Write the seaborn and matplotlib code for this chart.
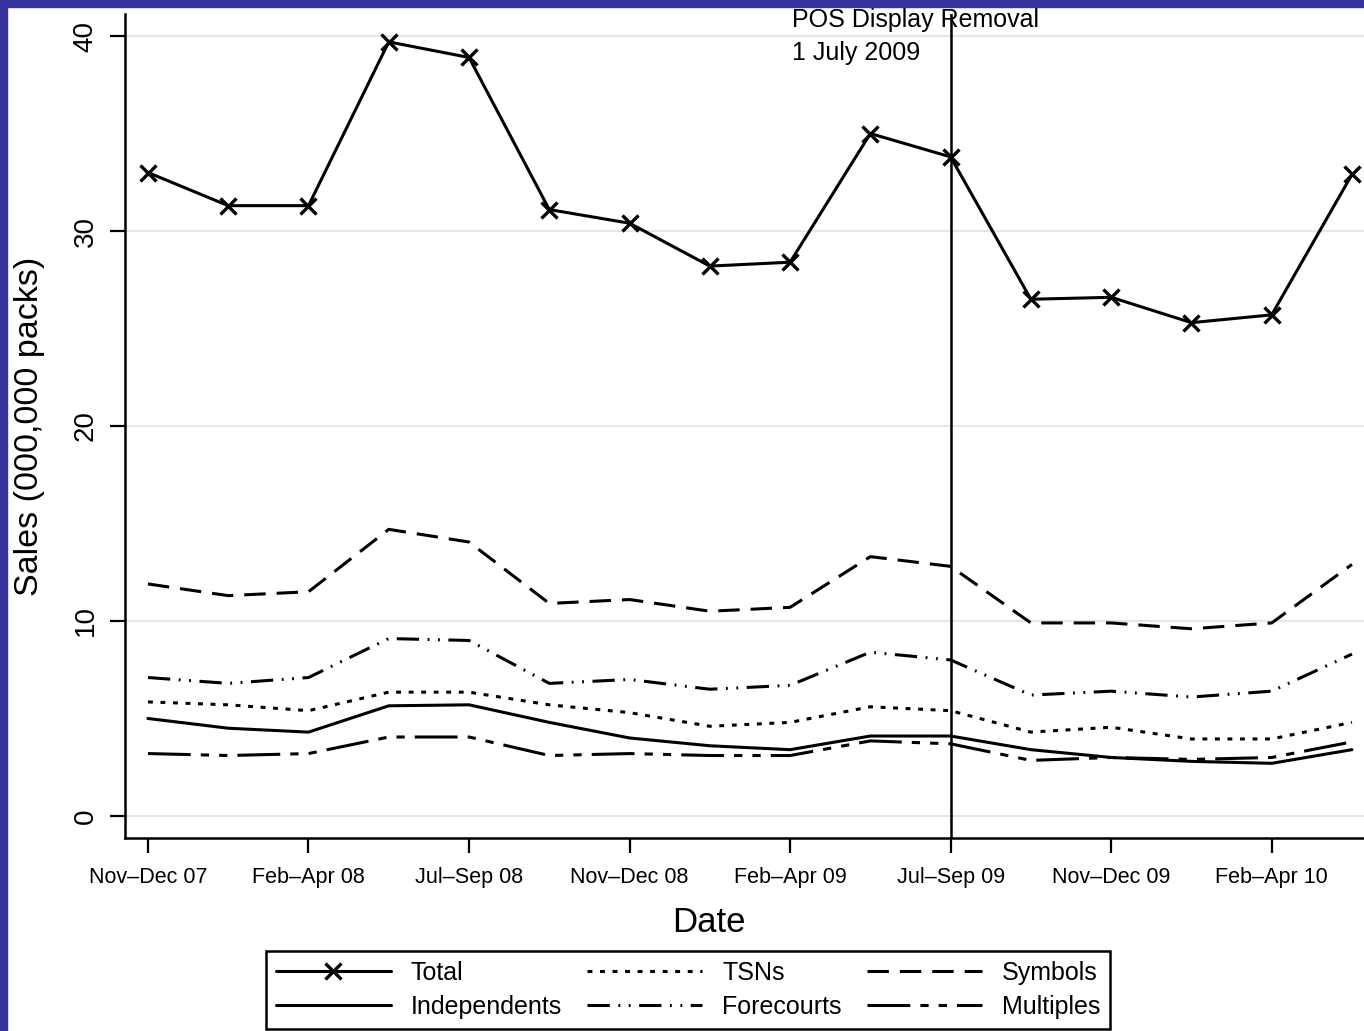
import numpy as np
import pandas as pd
import seaborn as sns
import matplotlib.pyplot as plt
from matplotlib.patches import Rectangle

# quarters (3-month rolling periods), Nov-Dec 07 .. Apr-Jun 10
periods = list(range(16))
tick_pos = [0, 2, 4, 6, 8, 10, 12, 14]
tick_labels = ['Nov\u2013Dec 07', 'Feb\u2013Apr 08', 'Jul\u2013Sep 08', 'Nov\u2013Dec 08',
               'Feb\u2013Apr 09', 'Jul\u2013Sep 09', 'Nov\u2013Dec 09', 'Feb\u2013Apr 10']

total = [33.0, 31.3, 31.3, 39.7, 38.9, 31.1, 30.4, 28.2, 28.4, 35.0, 33.8, 26.5, 26.6, 25.3, 25.7, 32.9]
symbols = [11.9, 11.3, 11.5, 14.7, 14.05, 10.9, 11.1, 10.5, 10.7, 13.3, 12.8, 9.9, 9.9, 9.6, 9.9, 12.9]
forecourts = [7.1, 6.8, 7.1, 9.1, 9.0, 6.8, 7.0, 6.5, 6.7, 8.4, 8.0, 6.2, 6.4, 6.1, 6.4, 8.3]
tsns = [5.85, 5.7, 5.4, 6.35, 6.35, 5.7, 5.3, 4.6, 4.8, 5.6, 5.4, 4.3, 4.55, 3.95, 3.95, 4.8]
independents = [5.0, 4.5, 4.3, 5.65, 5.7, 4.8, 4.0, 3.6, 3.4, 4.1, 4.1, 3.4, 3.0, 2.8, 2.7, 3.4]
multiples = [3.2, 3.1, 3.2, 4.05, 4.05, 3.1, 3.2, 3.1, 3.1, 3.85, 3.7, 2.85, 3.0, 2.9, 3.0, 3.8]

removal_idx = 10

sns.set_theme(style='white')
plt.rcParams['font.family'] = ['Liberation Sans', 'DejaVu Sans']
for k in ['text.color', 'axes.labelcolor', 'xtick.color', 'ytick.color']:
    plt.rcParams[k] = 'black'

fig = plt.figure(figsize=(13.64, 10.31), dpi=100, facecolor='white')
ax = fig.add_axes([125 / 1364, 1 - 838 / 1031, 1 - 125 / 1364, (838 - 14) / 1031])

lw = 2.2
series = [
    ('Total', total, dict(linestyle='-', marker='x', markersize=11, markeredgewidth=2.4,
                          markeredgecolor='black', markerfacecolor='black')),
    ('Independents', independents, dict(linestyle='-')),
    ('TSNs', tsns, dict(linestyle=(0, (1.6, 2.5)))),
    ('Forecourts', forecourts, dict(linestyle=(0, (7.3, 2.8, 0.6, 2.8, 0.6, 2.8)))),
    ('Symbols', symbols, dict(linestyle=(0, (7, 3.6)))),
    ('Multiples', multiples, dict(linestyle=(0, (14, 3.3, 2.7, 3.3, 2.7, 3.3)))),
]

for name, vals, kw in series:
    sns.lineplot(x=periods, y=vals, ax=ax, color='black', linewidth=lw, label=name, **kw)

ax.axvline(removal_idx, color='black', linewidth=1.8)
ax.text(8.03, 41.45, 'POS Display Removal\n1 July 2009', fontsize=18, va='top', ha='left',
        linespacing=1.5, clip_on=False)

ax.set_xlim(-0.286, 15.15)
ax.set_ylim(-1.13, 41.13)
ax.set_yticks([0, 10, 20, 30, 40])
ax.set_xticks(tick_pos)
ax.set_xticklabels(tick_labels)
ax.grid(axis='y', color='#e6e6e6', linewidth=1.5)
ax.grid(axis='x', visible=False)

for s in ['top', 'right']:
    ax.spines[s].set_visible(False)
for s in ['left', 'bottom']:
    ax.spines[s].set_color('black')
    ax.spines[s].set_linewidth(1.8)

ax.tick_params(axis='both', which='major', length=11, width=1.6, color='black', direction='out',
               left=True, bottom=True)
ax.tick_params(axis='x', labelsize=15.5, pad=10)
ax.tick_params(axis='y', labelsize=20, pad=8)
plt.setp(ax.get_yticklabels(), rotation=90, va='center')

ax.set_xlabel('Date', fontsize=25, labelpad=13)
ax.xaxis.label.set_x((709 - 125) / (1364 - 125))
ax.set_ylabel('Sales (000,000 packs)', fontsize=24.5, labelpad=20)

handles, labels = ax.get_legend_handles_labels()
ax.get_legend().remove()
fig.legend(handles, labels, ncol=3, loc='lower center', bbox_to_anchor=(688 / 1364, 2 / 1031),
           fontsize=18, frameon=True, fancybox=False, edgecolor='black', framealpha=1,
           handlelength=4.6, handletextpad=0.8, columnspacing=1.0, labelspacing=0.4,
           borderpad=0.4, borderaxespad=0)
leg = fig.legends[0]
leg.get_frame().set_linewidth(1.8)

# blue frame of the original page
fig.patches.append(Rectangle((0, 0), 7 / 1364, 1, transform=fig.transFigure,
                             color='#36349c', zorder=10))
fig.patches.append(Rectangle((0, 1 - 7 / 1031), 1, 7 / 1031, transform=fig.transFigure,
                             color='#36349c', zorder=10))

fig.savefig('out.png', dpi=100, facecolor='white')
